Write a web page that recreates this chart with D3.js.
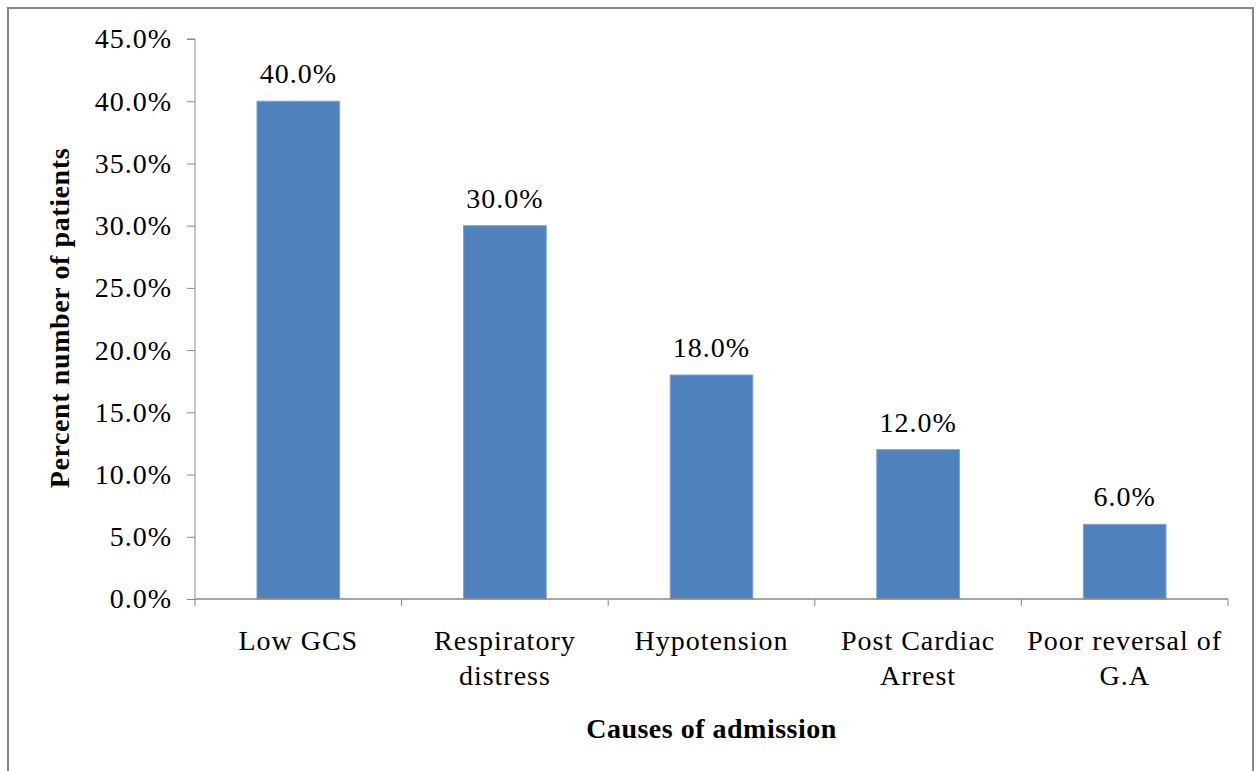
<!DOCTYPE html>
<html>
<head>
<meta charset="utf-8">
<script src="https://cdn.jsdelivr.net/npm/d3@7"></script>
<style>
  html, body { margin: 0; padding: 0; background: #fff; }
  svg { display: block; }
  text { font-family: "Liberation Serif", "Times New Roman", Times, serif; fill: #000; letter-spacing: 1px; }
</style>
</head>
<body>
<svg id="chart" width="1259" height="771"></svg>
<script>
// Causes of admission and share of patients (%)
const categories = [
  ["Low GCS"],
  ["Respiratory", "distress"],
  ["Hypotension"],
  ["Post Cardiac", "Arrest"],
  ["Poor reversal of", "G.A"]
];
const percents = [40.0, 30.0, 18.0, 12.0, 6.0];
const yTicks = [0, 5, 10, 15, 20, 25, 30, 35, 40, 45];

const svg = d3.select("#chart");
const W = 1259, H = 771;
const serif = "'Liberation Serif', 'Times New Roman', serif";

// outer frame
svg.append("rect")
  .attr("x", 8).attr("y", 8)
  .attr("width", 1245).attr("height", H)
  .attr("fill", "#fff").attr("stroke", "#888").attr("stroke-width", 2);

const plot = { left: 195, right: 1228, top: 39, bottom: 599 };
const keys = categories.map((c, i) => i);

const x = d3.scaleBand().domain(keys).range([plot.left, plot.right]).paddingInner(0.6).paddingOuter(0.3);
const xCat = d3.scaleBand().domain(keys).range([plot.left, plot.right]);
const y = d3.scaleLinear().domain([0, 45]).range([plot.bottom, plot.top]);

const fs = 28;

// bars
svg.append("g").selectAll("rect")
  .data(percents)
  .join("rect")
  .attr("x", (d, i) => x(i))
  .attr("y", d => y(d))
  .attr("width", x.bandwidth())
  .attr("height", d => y(0) - y(d))
  .attr("fill", "#4F81BD")
  .attr("stroke", "#7ea2d2")
  .attr("stroke-width", 1);

// value labels
svg.append("g").selectAll("text")
  .data(percents)
  .join("text")
  .attr("x", (d, i) => x(i) + x.bandwidth() / 2)
  .attr("y", d => y(d) - 18)
  .attr("text-anchor", "middle")
  .attr("font-family", serif)
  .attr("font-size", fs)
  .text(d => d.toFixed(1) + "%");

// y axis
const yAxis = d3.axisLeft(y).tickValues(yTicks).tickSize(8).tickPadding(15)
  .tickFormat(d => d.toFixed(1) + "%");
const gy = svg.append("g").attr("transform", `translate(${plot.left},0)`).call(yAxis)
  .attr("font-family", serif);
gy.select(".domain").attr("stroke", "#888").attr("d", `M-8,${plot.top}H0V${plot.bottom}`);
gy.selectAll(".tick line").attr("stroke", "#888");
gy.selectAll(".tick text").attr("font-size", fs).attr("fill", "#000");

// x axis: baseline with boundary ticks between categories
const gx = svg.append("g");
gx.append("line")
  .attr("x1", plot.left).attr("x2", plot.right)
  .attr("y1", plot.bottom).attr("y2", plot.bottom)
  .attr("stroke", "#888").attr("stroke-width", 1.5);
const bounds = keys.map(k => xCat(k)).concat([plot.right]);
gx.selectAll("line.tk")
  .data(bounds)
  .join("line")
  .attr("class", "tk")
  .attr("x1", d => d).attr("x2", d => d)
  .attr("y1", plot.bottom).attr("y2", plot.bottom + 7)
  .attr("stroke", "#888");

// category labels
const cl = svg.append("g").selectAll("text")
  .data(categories)
  .join("text")
  .attr("x", (d, i) => xCat(i) + xCat.bandwidth() / 2)
  .attr("y", 650)
  .attr("text-anchor", "middle")
  .attr("font-family", serif)
  .attr("font-size", fs);
cl.selectAll("tspan")
  .data(d => d)
  .join("tspan")
  .attr("x", function() { return d3.select(this.parentNode).attr("x"); })
  .attr("dy", (d, i) => i === 0 ? 0 : 35)
  .text(d => d);

// axis titles
svg.append("text")
  .attr("x", (plot.left + plot.right) / 2)
  .attr("y", 738)
  .attr("text-anchor", "middle")
  .attr("font-family", serif)
  .attr("font-size", fs)
  .attr("font-weight", "bold")
  .style("letter-spacing", "0.5px")
  .text("Causes of admission");

svg.append("text")
  .attr("transform", `translate(69,318) rotate(-90)`)
  .attr("text-anchor", "middle")
  .attr("font-family", serif)
  .attr("font-size", fs)
  .attr("font-weight", "bold")
  .style("letter-spacing", "0.6px")
  .text("Percent number of patients");
</script>
</body>
</html>
